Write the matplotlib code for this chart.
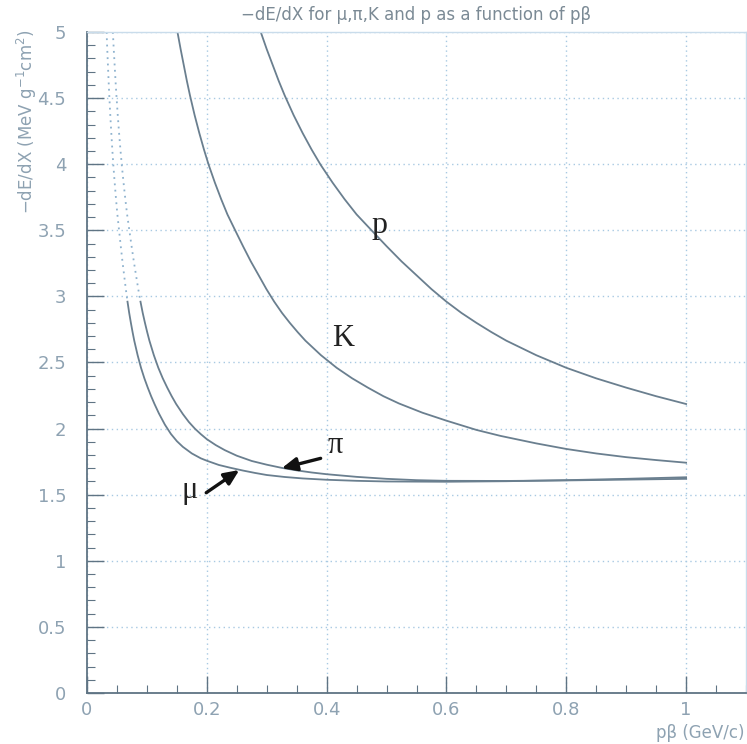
import matplotlib
matplotlib.use("Agg")
import matplotlib.pyplot as plt
from matplotlib.ticker import MultipleLocator, FormatStrFormatter
import numpy as np

# ---- data ----
p_x = [0.29, 0.30, 0.31, 0.32, 0.33, 0.345, 0.36, 0.375, 0.39, 0.41, 0.43, 0.45, 0.477, 0.5, 0.525,
       0.55, 0.575, 0.6, 0.625, 0.65, 0.675, 0.7, 0.75, 0.8, 0.85, 0.9, 0.95, 1.0]
p_y = [5.0, 4.87, 4.75, 4.63, 4.52, 4.37, 4.235, 4.11, 3.995, 3.86, 3.735, 3.62, 3.49, 3.38, 3.265,
       3.16, 3.055, 2.96, 2.875, 2.8, 2.73, 2.665, 2.555, 2.46, 2.38, 2.31, 2.245, 2.186]

k_x = [0.151, 0.1563, 0.1615, 0.1667, 0.1719, 0.1797, 0.1875, 0.1953, 0.2031, 0.2135, 0.224, 0.2344,
       0.2484, 0.2604, 0.2734, 0.2865, 0.2995, 0.3125, 0.3255, 0.3385, 0.3516, 0.3646, 0.3906, 0.4167,
       0.4427, 0.4688, 0.4948, 0.5208, 0.56, 0.6, 0.65, 0.69, 0.75, 0.8, 0.85, 0.9, 0.95, 1.0]
k_y = [5.0, 4.87, 4.75, 4.63, 4.52, 4.37, 4.235, 4.11, 3.995, 3.86, 3.735, 3.62,
       3.49, 3.38, 3.265, 3.16, 3.055, 2.96, 2.875, 2.8, 2.73, 2.665, 2.555, 2.46,
       2.38, 2.31, 2.245, 2.19, 2.12, 2.06, 1.99, 1.945, 1.888, 1.846, 1.812, 1.784, 1.762, 1.742]

pi_x = [0.04315, 0.04464, 0.04613, 0.04762, 0.04911, 0.05134, 0.05357, 0.0558, 0.05804, 0.06101, 0.06399,
        0.06696, 0.07098, 0.0744, 0.07813, 0.08185, 0.08557, 0.08929, 0.093, 0.09673, 0.10045, 0.10417,
        0.11161, 0.11905, 0.12649, 0.13393, 0.14137, 0.14881, 0.16, 0.17, 0.18, 0.19, 0.2, 0.215, 0.23,
        0.25, 0.275, 0.3, 0.325, 0.35, 0.375, 0.4, 0.45, 0.5, 0.55, 0.6, 0.7, 0.8, 0.9, 1.0]
pi_y = [5.0, 4.87, 4.75, 4.63, 4.52, 4.37, 4.235, 4.11, 3.995, 3.86, 3.735,
        3.62, 3.49, 3.38, 3.265, 3.16, 3.055, 2.96, 2.875, 2.8, 2.73, 2.665,
        2.555, 2.46, 2.38, 2.31, 2.245, 2.186, 2.11, 2.05, 2.0, 1.958, 1.92, 1.875, 1.837,
        1.795, 1.755, 1.727, 1.703, 1.684, 1.668, 1.655, 1.635, 1.62, 1.61, 1.605, 1.604, 1.608, 1.614, 1.62]

mu_x = [0.03268, 0.03381, 0.03493, 0.03606, 0.03719, 0.03888, 0.04057, 0.04226, 0.04395, 0.0462, 0.04846,
        0.05071, 0.05375, 0.05634, 0.05916, 0.06198, 0.0648, 0.06761, 0.07043, 0.07325, 0.07607, 0.07888,
        0.08452, 0.09015, 0.09579, 0.10142, 0.10705, 0.11269, 0.12, 0.13, 0.14, 0.15, 0.16, 0.175, 0.19,
        0.2, 0.22, 0.24, 0.26, 0.28, 0.3, 0.33, 0.36, 0.4, 0.45, 0.5, 0.6, 0.7, 0.8, 0.9, 1.0]
mu_y = [5.0, 4.87, 4.75, 4.63, 4.52, 4.37, 4.235, 4.11, 3.995, 3.86, 3.735,
        3.62, 3.49, 3.38, 3.265, 3.16, 3.055, 2.96, 2.875, 2.8, 2.73, 2.665,
        2.555, 2.46, 2.38, 2.31, 2.245, 2.186, 2.115, 2.03, 1.96, 1.905, 1.862, 1.812, 1.775,
        1.757, 1.725, 1.703, 1.683, 1.665, 1.649, 1.634, 1.623, 1.613, 1.605, 1.60, 1.598, 1.602, 1.61, 1.62, 1.632]

x_ticks = [0, 0.2, 0.4, 0.6, 0.8, 1]
y_ticks = [0, 0.5, 1, 1.5, 2, 2.5, 3, 3.5, 4, 4.5, 5]

title = "\u2212dE/dX for \u03bc,\u03c0,K and p as a function of p\u03b2"
ylabel = "\u2212dE/dX (MeV g$^{-1}$cm$^{2}$)"
xlabel = "p\u03b2 (GeV/c)"

# ---- styling ----
W, H = 747, 744
fig = plt.figure(figsize=(W / 100, H / 100), dpi=100)
ax = fig.add_axes([87 / W, 1 - 693 / H, (746 - 87) / W, (693 - 32) / H])

curve_col = "#6a7f8f"
dot_col = "#8fb3cf"
axis_col = "#5f7484"
lab_col = "#8ea2b2"
grid_col = "#a8c9e2"

ax.set_xlim(0, 1.1)
ax.set_ylim(0, 5)

for xs, ys, dotted in [(p_x, p_y, False), (k_x, k_y, False), (pi_x, pi_y, True), (mu_x, mu_y, True)]:
    xs = np.asarray(xs); ys = np.asarray(ys)
    if dotted:
        hi = ys >= 2.95
        lo = ys <= 3.0
        ax.plot(xs[hi], ys[hi], color=dot_col, lw=1.3, ls=(0, (1, 2.5)))
        ax.plot(xs[lo], ys[lo], color=curve_col, lw=1.3)
    else:
        ax.plot(xs, ys, color=curve_col, lw=1.3)

ax.set_xticks(x_ticks)
ax.set_yticks(y_ticks)
ax.xaxis.set_minor_locator(MultipleLocator(0.05))
ax.yaxis.set_minor_locator(MultipleLocator(0.1))
ax.xaxis.set_major_formatter(FormatStrFormatter('%g'))
ax.yaxis.set_major_formatter(FormatStrFormatter('%g'))
ax.tick_params(which='both', direction='in', colors=axis_col, labelcolor=lab_col,
               labelsize=13, top=False, right=False)
ax.tick_params(which='major', length=12, width=1)
ax.tick_params(which='minor', length=6, width=0.8)
ax.tick_params(axis='y', pad=15)
ax.tick_params(axis='x', pad=6)

ax.grid(True, which='major', color=grid_col, lw=1, ls=(0, (1, 2.5)))
ax.set_axisbelow(True)
for s in ['left', 'bottom']:
    ax.spines[s].set_color(axis_col)
    ax.spines[s].set_linewidth(1.3)
for s in ['top', 'right']:
    ax.spines[s].set_color('#c9dceb')
    ax.spines[s].set_linewidth(1.0)

# labels
fig.text(416 / W, 1 - 15 / H, title, ha='center', va='center', fontsize=12, color='#7b8a95')
fig.text(27 / W, 1 - 30 / H, ylabel, rotation=90, ha='center', va='top', fontsize=12, color=lab_col)
fig.text(745 / W, 1 - 733 / H, xlabel, ha='right', va='center', fontsize=12, color=lab_col)

serif = dict(family='Liberation Serif', color='#222222')
ax.text(0.489, 3.54, "p", fontsize=23, ha='center', va='center', **serif)
ax.text(0.427, 2.68, "K", fontsize=22, ha='center', va='center', **serif)
ax.text(0.414, 1.87, "\u03c0", fontsize=22, ha='center', va='center', **serif)
ax.text(0.172, 1.53, "\u03bc", fontsize=22, ha='center', va='center', **serif)

arrow = dict(arrowstyle='-|>,head_length=0.9,head_width=0.4', lw=2.4, color='#111111',
             shrinkA=0, shrinkB=0)
ax.annotate("", xy=(0.325, 1.70), xytext=(0.39, 1.775), arrowprops=arrow)
ax.annotate("", xy=(0.2543, 1.687), xytext=(0.199, 1.515), arrowprops=arrow)

fig.savefig("out.png", dpi=100)
